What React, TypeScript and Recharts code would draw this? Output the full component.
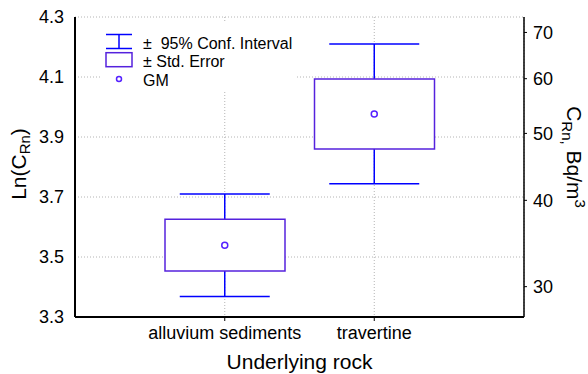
import { Bar, CartesianGrid, ComposedChart, ErrorBar, Label, Legend, Line, XAxis, YAxis } from 'recharts';

const categories = ['alluvium sediments', 'travertine'];
const geoMean = [3.539, 3.977];
const stdErrLow = [3.453, 3.86];
const stdErrHigh = [3.626, 4.093];
const ciLow = [3.368, 3.744];
const ciHigh = [3.71, 4.21];
const leftTicks = [3.3, 3.5, 3.7, 3.9, 4.1, 4.3];
const rightTickLabels = [30, 40, 50, 60, 70];

const FONT = '"Liberation Sans", Arial, sans-serif';
const WHISKER = '#0000ff';
const BOX = '#5522dd';
const GM = '#5522ff';

const rows = categories.map((name, i) => ({
  name,
  gm: geoMean[i],
  se: [stdErrLow[i], stdErrHigh[i]],
  ci: [geoMean[i] - ciLow[i], ciHigh[i] - geoMean[i]],
}));

const LegendBox = () => (
  <svg width={195} height={70} style={{ display: 'block', background: '#fff' }}>
    <g stroke={WHISKER} strokeWidth={1.5}>
      <line x1={6} y1={12.5} x2={32} y2={12.5} />
      <line x1={6} y1={26.5} x2={32} y2={26.5} />
      <line x1={19} y1={12.5} x2={19} y2={26.5} />
    </g>
    <rect x={6} y={30.7} width={26} height={14} fill="#fff" stroke={BOX} strokeWidth={1.5} />
    <circle cx={19} cy={57} r={2.5} fill="#fff" stroke={GM} strokeWidth={1.5} />
    <g fontFamily={FONT} fontSize={16} fill="#000">
      <text x={43} y={27}>{'±\u00a0\u00a095% Conf. Interval'}</text>
      <text x={43} y={45}>± Std. Error</text>
      <text x={43} y={64}>GM</text>
    </g>
  </svg>
);

export default function App() {
  return (
    <div style={{ position: 'absolute', left: 0, top: 0, fontFamily: FONT }}>
      <ComposedChart width={588} height={374} data={rows} margin={{ top: 17, right: 0, bottom: 0, left: 0 }}>
        <CartesianGrid xAxisId="bottom" yAxisId="left" stroke="#b4b4b4" strokeDasharray="1 2" />
        <XAxis
          xAxisId="bottom"
          dataKey="name"
          height={57}
          padding={{ left: 75, right: 75 }}
          axisLine={{ stroke: '#000', strokeWidth: 2 }}
          tickLine={{ stroke: '#000' }}
          tickSize={4}
          tickMargin={5}
          tick={{ fill: '#000', fontSize: 18, fontFamily: FONT }}
        >
          <Label
            content={() => (
              <text x={299.5} y={369} textAnchor="middle" fontSize={21} fontFamily={FONT} fill="#000">
                Underlying rock
              </text>
            )}
          />
        </XAxis>
        <XAxis
          xAxisId="top"
          dataKey="name"
          orientation="top"
          height={0}
          mirror
          padding={{ left: 75, right: 75 }}
          axisLine={{ stroke: '#000', strokeWidth: 1.5 }}
          tickLine={{ stroke: '#000' }}
          tickSize={5}
          tick={false}
        />
        <YAxis
          yAxisId="left"
          type="number"
          domain={[3.3, 4.3]}
          ticks={leftTicks}
          interval={0}
          width={75}
          allowDataOverflow
          axisLine={{ stroke: '#000', strokeWidth: 2 }}
          tickLine={false}
          tickSize={0}
          tickMargin={11}
          tickFormatter={(v: number) => v.toFixed(1)}
          tick={{ fill: '#000', fontSize: 18, fontFamily: FONT }}
        >
          <Label
            content={() => (
              <text transform="translate(26,164) rotate(-90)" textAnchor="middle" fontSize={21} fontFamily={FONT} fill="#000">
                Ln(C<tspan fontSize={15} dy={4}>Rn</tspan>
                <tspan dy={-4}>)</tspan>
              </text>
            )}
          />
        </YAxis>
        <YAxis
          yAxisId="right"
          orientation="right"
          type="number"
          domain={[3.3, 4.3]}
          ticks={rightTickLabels.map((v) => Math.log(v))}
          interval={0}
          width={64}
          allowDataOverflow
          axisLine={{ stroke: '#000', strokeWidth: 1.5 }}
          tickLine={{ stroke: '#000' }}
          tickSize={3}
          tickMargin={6}
          tickFormatter={(v: number) => String(Math.round(Math.exp(v)))}
          tick={{ fill: '#000', fontSize: 18, fontFamily: FONT }}
        >
          <Label
            content={() => (
              <text transform="translate(567,157) rotate(90)" textAnchor="middle" fontSize={21} fontFamily={FONT} fill="#000">
                C<tspan fontSize={15} dy={5}>Rn</tspan>
                <tspan fontSize={15}>,</tspan>
                <tspan dy={-5}> Bq/m</tspan>
                <tspan fontSize={15} dy={-8}>3</tspan>
              </text>
            )}
          />
        </YAxis>
        <Legend
          layout="horizontal"
          verticalAlign="middle"
          align="center"
          content={() => <LegendBox />}
          wrapperStyle={{ position: 'absolute', left: 100, top: 22, width: 195, height: 70 }}
        />
        <Line
          xAxisId="bottom"
          yAxisId="left"
          dataKey="gm"
          stroke="none"
          dot={false}
          activeDot={false}
          isAnimationActive={false}
          zIndex={100}
        >
          <ErrorBar dataKey="ci" direction="y" width={45} stroke={WHISKER} strokeWidth={1.5} zIndex={100} />
        </Line>
        <Bar
          xAxisId="bottom"
          yAxisId="left"
          dataKey="se"
          barSize={120}
          fill="#fff"
          stroke={BOX}
          strokeWidth={1.5}
          isAnimationActive={false}
          zIndex={450}
        />
        <Line
          xAxisId="bottom"
          yAxisId="left"
          dataKey="gm"
          stroke="none"
          dot={{ r: 3, fill: '#fff', stroke: GM, strokeWidth: 1.5 }}
          activeDot={false}
          isAnimationActive={false}
          zIndex={600}
        />
        <Line
          xAxisId="top"
          yAxisId="right"
          dataKey="gm"
          stroke="none"
          dot={false}
          activeDot={false}
          isAnimationActive={false}
        />
      </ComposedChart>
    </div>
  );
}
